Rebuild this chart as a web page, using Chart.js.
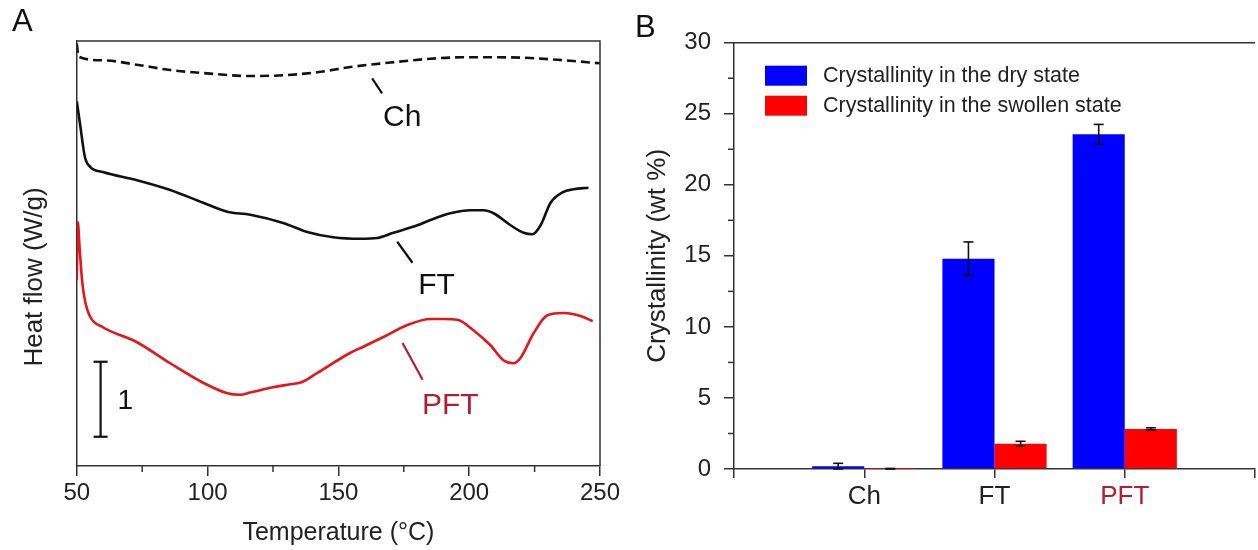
<!DOCTYPE html>
<html>
<head>
<meta charset="utf-8">
<title>DSC and crystallinity</title>
<script src="https://cdn.jsdelivr.net/npm/chart.js@4.4.0/dist/chart.umd.min.js"></script>
<style>
    html, body { margin: 0; padding: 0; background: #fff; }
    body { width: 1258px; height: 550px; position: relative; overflow: hidden;
           font-family: 'Liberation Sans', Arial, Helvetica, sans-serif; }
    .panel { position: absolute; top: 0; height: 550px; }
    #panelA { left: 0; width: 630px; }
    #panelB { left: 620px; width: 638px; }
    .tag { position: absolute; font-size: 31px; line-height: 1; color: #111; }
</style>
</head>
<body>
<div class="panel" id="panelA"><canvas id="dscChart"></canvas></div>
<div class="panel" id="panelB"><canvas id="barChart"></canvas></div>
<div class="tag" style="left:12px; top:5px;">A</div>
<div class="tag" style="left:635px; top:11px;">B</div>

<script>
// ---- Panel A: DSC heat flow curves (temperature in °C, heat flow in W/g, curves offset) ----
const chTemp  = [50, 50.6, 60, 73, 85.7, 98.3, 116.3, 128.9, 141.9, 154.6, 167.2, 185.2, 197.8, 210.8, 223.4, 236.1, 250];
const chFlow  = [5.63, 5.46, 5.41, 5.35, 5.28, 5.24, 5.20, 5.21, 5.25, 5.32, 5.37, 5.43, 5.45, 5.45, 5.44, 5.41, 5.37];

const ftTemp  = [50, 51.2, 53.1, 55.1, 60, 73, 85.7, 98.3, 107.5, 116.3, 128.9, 138.1, 148, 158.4, 164.9, 171,
                 180.2, 185.2, 192.8, 200.5, 205.5, 209.3, 215.8, 220.8, 224.2, 227.3, 231.1, 235.7, 239.9, 245.6];
const ftFlow  = [4.86, 4.57, 4.12, 3.99, 3.92, 3.81, 3.68, 3.51, 3.39, 3.35, 3.24, 3.12, 3.05, 3.03, 3.04, 3.11,
                 3.21, 3.28, 3.37, 3.41, 3.41, 3.37, 3.21, 3.11, 3.09, 3.21, 3.51, 3.65, 3.69, 3.71];

const pftTemp = [50, 50.4, 51, 52, 53.1, 55.1, 60, 73, 85.7, 98.3, 107.5, 112.5, 116.3, 125.1, 131.6, 136.2, 141.9,
                 154.6, 159.5, 167.2, 176.4, 185.2, 190.2, 195.5, 201.6, 208.1, 213.1, 216.9, 219.6, 224.6, 229.9,
                 236.1, 242.6, 247.2];
const pftFlow = [2.48, 3.25, 2.95, 2.48, 2.21, 1.99, 1.85, 1.65, 1.37, 1.11, 0.97, 0.95, 0.98, 1.05, 1.09, 1.12, 1.24,
                 1.51, 1.59, 1.72, 1.88, 1.96, 1.96, 1.95, 1.81, 1.61, 1.41, 1.37, 1.44, 1.77, 2.01,
                 2.04, 2.00, 1.93];

const tempTicks  = [50, 100, 150, 200, 250];
const minorTemps = [75, 125, 175, 225];
const flowMax = 5.667;

// curve labels with their leader lines (data units)
const curveNames   = ['Ch', 'FT', 'PFT'];
const curveLabelAt = [[174.4, 4.64], [187.5, 2.41], [192.8, 0.81]];
const leaderFrom   = [[162.9, 5.17], [172.5, 2.99], [174.5, 1.64]];
const leaderTo     = [[166.7, 4.97], [178.3, 2.71], [182.2, 1.15]];

// 1 W/g scale bar
const scaleBarTemp = 59.1;
const scaleBarBase = 0.39;
const scaleBarSize = 1;

// ---- Panel B: crystallinity bars ----
const sampleLabels  = ['', 'Ch', 'FT', 'PFT', ''];
const dryValues     = [null, 0.2, 14.8, 23.55, null];
const dryErrors     = [null, 0.2, 1.18, 0.7, null];
const swollenValues = [null, 0.02, 1.78, 2.82, null];
const swollenErrors = [null, 0.02, 0.17, 0.08, null];
const crystTicks    = [0, 5, 10, 15, 20, 25, 30];

const FONT = "'Liberation Sans', Arial, Helvetica, sans-serif";
const AXIS = '#333';
const INK = '#222';
const DARK_RED = '#B01E30';

Chart.defaults.font.family = FONT;
Chart.defaults.color = INK;

function toPoints(xs, ys) {
    return xs.map((x, i) => ({ x: x, y: ys[i] }));
}

function line(ctx, x1, y1, x2, y2) {
    ctx.beginPath();
    ctx.moveTo(x1, y1);
    ctx.lineTo(x2, y2);
    ctx.stroke();
}

// Box, minor ticks, scale bar, labels for panel A
const dscDecor = {
    id: 'dscDecor',
    afterDraw(chart) {
        const { ctx, chartArea: a, scales: { x, y } } = chart;
        ctx.save();
        ctx.strokeStyle = AXIS;
        ctx.lineWidth = 1.5;
        ctx.beginPath();
        ctx.moveTo(a.left, a.top);
        ctx.lineTo(a.right, a.top);
        ctx.lineTo(a.right, a.bottom);
        ctx.stroke();

        minorTemps.forEach(t => {
            const px = x.getPixelForValue(t);
            line(ctx, px, a.bottom, px, a.bottom + 6);
        });

        // scale bar
        ctx.strokeStyle = '#111';
        ctx.lineWidth = 2.2;
        const bx = x.getPixelForValue(scaleBarTemp);
        const b0 = y.getPixelForValue(scaleBarBase);
        const b1 = y.getPixelForValue(scaleBarBase + scaleBarSize);
        line(ctx, bx, b0, bx, b1);
        line(ctx, bx - 7, b0, bx + 7, b0);
        line(ctx, bx - 7, b1, bx + 7, b1);
        ctx.fillStyle = '#111';
        ctx.font = '28px ' + FONT;
        ctx.textAlign = 'left';
        ctx.textBaseline = 'middle';
        ctx.fillText(String(scaleBarSize), bx + 17, (b0 + b1) / 2 + 2);

        // curve labels
        ctx.textAlign = 'center';
        ctx.font = '30px ' + FONT;
        curveNames.forEach((name, i) => {
            const col = name === 'PFT' ? DARK_RED : '#111';
            ctx.strokeStyle = col;
            ctx.lineWidth = 2.2;
            line(ctx, x.getPixelForValue(leaderFrom[i][0]), y.getPixelForValue(leaderFrom[i][1]),
                      x.getPixelForValue(leaderTo[i][0]), y.getPixelForValue(leaderTo[i][1]));
            ctx.fillStyle = col;
            ctx.fillText(name, x.getPixelForValue(curveLabelAt[i][0]), y.getPixelForValue(curveLabelAt[i][1]));
        });

        // y axis title
        ctx.fillStyle = INK;
        ctx.font = '26px ' + FONT;
        ctx.translate(35, 277);
        ctx.rotate(-Math.PI / 2);
        ctx.fillText('Heat flow (W/g)', 0, 0);
        ctx.restore();
    }
};

// Error bars drawn on top of each bar
const errorBars = {
    id: 'errorBars',
    afterDatasetsDraw(chart) {
        const { ctx, scales: { y } } = chart;
        ctx.save();
        ctx.strokeStyle = '#111';
        ctx.lineWidth = 1.6;
        chart.data.datasets.forEach((ds, i) => {
            chart.getDatasetMeta(i).data.forEach((bar, j) => {
                const v = ds.data[j];
                const e = ds.errors[j];
                if (v == null || e == null) return;
                const top = y.getPixelForValue(v + e);
                const bottom = y.getPixelForValue(Math.max(0, v - e));
                line(ctx, bar.x, top, bar.x, bottom);
                line(ctx, bar.x - 5, top, bar.x + 5, top);
                line(ctx, bar.x - 5, bottom, bar.x + 5, bottom);
            });
        });
        ctx.restore();
    }
};

// Top border, minor ticks and legend for panel B
const barDecor = {
    id: 'barDecor',
    afterDraw(chart) {
        const { ctx, chartArea: a, scales: { y } } = chart;
        ctx.save();
        ctx.strokeStyle = AXIS;
        ctx.lineWidth = 1.5;
        line(ctx, a.left, a.top, a.right, a.top);
        for (let i = 0; i < crystTicks.length - 1; i++) {
            const py = y.getPixelForValue((crystTicks[i] + crystTicks[i + 1]) / 2);
            line(ctx, a.left - 6, py, a.left, py);
        }
        ctx.font = '21.5px ' + FONT;
        ctx.textBaseline = 'middle';
        ctx.textAlign = 'left';
        chart.data.datasets.forEach((ds, i) => {
            const yMid = a.top + 33 + i * 30;
            ctx.fillStyle = ds.backgroundColor;
            ctx.fillRect(a.left + 31, yMid - 10, 42, 20);
            ctx.fillStyle = INK;
            ctx.fillText(ds.label, a.left + 89, yMid);
        });
        ctx.restore();
    }
};

const dscChart = new Chart(document.getElementById('dscChart'), {
    type: 'line',
    data: {
        datasets: [
            {
                label: 'Ch',
                data: toPoints(chTemp, chFlow),
                borderColor: '#111',
                borderWidth: 2.6,
                borderDash: [9, 5],
                pointRadius: 0,
                cubicInterpolationMode: 'monotone'
            },
            {
                label: 'FT',
                data: toPoints(ftTemp, ftFlow),
                borderColor: '#111',
                borderWidth: 2.6,
                pointRadius: 0,
                cubicInterpolationMode: 'monotone'
            },
            {
                label: 'PFT',
                data: toPoints(pftTemp, pftFlow),
                borderColor: '#E4161B',
                borderWidth: 2.6,
                pointRadius: 0,
                cubicInterpolationMode: 'monotone'
            }
        ]
    },
    options: {
        responsive: true,
        maintainAspectRatio: false,
        animation: false,
        layout: { padding: { top: 41, right: 30, bottom: 0, left: 0 } },
        plugins: { legend: { display: false }, tooltip: { enabled: false } },
        scales: {
            x: {
                type: 'linear',
                min: tempTicks[0],
                max: tempTicks[tempTicks.length - 1],
                afterBuildTicks: scale => { scale.ticks = tempTicks.map(v => ({ value: v })); },
                ticks: { font: { size: 24 }, color: INK, padding: 3 },
                grid: { drawOnChartArea: false, tickLength: 10, color: AXIS, lineWidth: 1.5 },
                border: { color: AXIS, width: 1.5 },
                title: { display: true, text: 'Temperature (°C)', font: { size: 25 }, color: INK,
                         padding: { top: 0, bottom: 2 } },
                afterFit: scale => { scale.height = 84; }
            },
            y: {
                min: 0,
                max: flowMax,
                ticks: { display: false },
                grid: { display: false },
                border: { color: AXIS, width: 1.5 },
                afterFit: scale => { scale.width = 76.8; }
            }
        }
    },
    plugins: [dscDecor]
});

const barChart = new Chart(document.getElementById('barChart'), {
    type: 'bar',
    data: {
        labels: sampleLabels,
        datasets: [
            {
                label: 'Crystallinity in the dry state',
                data: dryValues,
                errors: dryErrors,
                backgroundColor: '#0000FF'
            },
            {
                label: 'Crystallinity in the swollen state',
                data: swollenValues,
                errors: swollenErrors,
                backgroundColor: '#FF0000'
            }
        ]
    },
    options: {
        responsive: true,
        maintainAspectRatio: false,
        animation: false,
        categoryPercentage: 0.8,
        barPercentage: 1.0,
        layout: { padding: { top: 42.7, right: 0, bottom: 0, left: 0 } },
        plugins: { legend: { display: false }, tooltip: { enabled: false } },
        scales: {
            x: {
                type: 'category',
                offset: false,
                ticks: {
                    font: { size: 26 },
                    color: ctx => sampleLabels[ctx.index] === 'PFT' ? DARK_RED : INK,
                    padding: 3,
                    autoSkip: false,
                    maxRotation: 0
                },
                grid: { offset: false, drawOnChartArea: false, tickLength: 9, color: AXIS, lineWidth: 1.5 },
                border: { color: AXIS, width: 1.5 },
                afterFit: scale => { scale.height = 81; }
            },
            y: {
                min: crystTicks[0],
                max: crystTicks[crystTicks.length - 1],
                afterBuildTicks: scale => { scale.ticks = crystTicks.map(v => ({ value: v })); },
                ticks: { font: { size: 24 }, color: INK, padding: 13 },
                grid: { drawOnChartArea: false, tickLength: 10, color: AXIS, lineWidth: 1.5 },
                border: { color: AXIS, width: 1.5 },
                title: { display: true, text: 'Crystallinity (wt %)', font: { size: 26 }, color: INK,
                         padding: { top: 22, bottom: 0 } },
                afterFit: scale => { scale.width = 114; }
            }
        }
    },
    plugins: [errorBars, barDecor]
});
</script>
</body>
</html>
